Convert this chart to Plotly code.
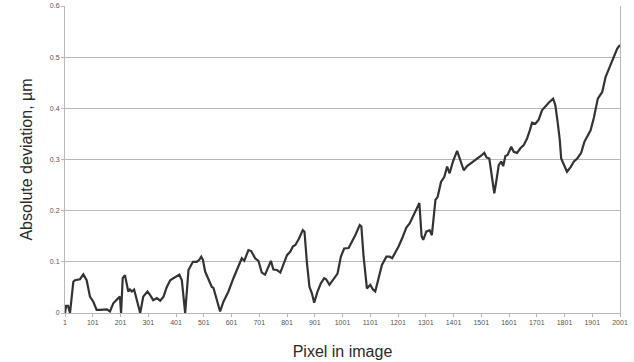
import plotly.graph_objects as go

# Pixel index along the image line
pixel = [1, 5, 12, 19, 31, 37, 55, 67, 79, 91, 103, 115, 127, 140, 152, 163, 175, 193, 199,
         203, 209, 217, 224, 229, 235, 242, 250, 260, 272, 283, 298, 308, 319, 332, 344, 356,
         368, 380, 398, 413, 422, 428, 434, 446, 462, 476, 485, 492, 498, 506, 518, 530, 536,
         548, 560, 572, 590, 608, 626, 638, 647, 662, 672, 686, 698, 710, 722, 734, 743, 752,
         765, 777, 788, 801, 813, 822, 831, 843, 858, 864, 873, 882, 891, 899, 911, 923, 935,
         942, 954, 969, 983, 995, 1007, 1023, 1035, 1047, 1063, 1069, 1077, 1089, 1101, 1111,
         1119, 1131, 1143, 1159, 1171, 1180, 1191, 1203, 1216, 1231, 1243, 1257, 1270, 1278,
         1286, 1292, 1303, 1315, 1323, 1336, 1344, 1356, 1368, 1378, 1387, 1399, 1414, 1426,
         1438, 1450, 1468, 1486, 1504, 1512, 1520, 1530, 1540, 1548, 1556, 1564, 1573, 1580,
         1588, 1596, 1609, 1618, 1630, 1642, 1654, 1666, 1676, 1684, 1696, 1708, 1720, 1732,
         1744, 1760, 1768, 1777, 1784, 1789, 1798, 1810, 1823, 1835, 1847, 1861, 1873, 1885,
         1895, 1907, 1921, 1937, 1949, 1964, 1979, 1991, 2001]

# Absolute deviation in micrometres
deviation = [0.0, 0.014, 0.014, 0.0, 0.061, 0.064, 0.066, 0.0755, 0.064, 0.032, 0.022, 0.006,
             0.006, 0.007, 0.007, 0.003, 0.019, 0.029, 0.032, 0.0, 0.068, 0.074, 0.051, 0.042,
             0.046, 0.042, 0.046, 0.025, 0.0, 0.032, 0.042, 0.035, 0.025, 0.029, 0.024, 0.032,
             0.051, 0.064, 0.07, 0.075, 0.064, 0.032, 0.0, 0.084, 0.1, 0.1, 0.104, 0.11, 0.104,
             0.081, 0.064, 0.051, 0.049, 0.025, 0.003, 0.022, 0.042, 0.068, 0.09, 0.107, 0.102,
             0.123, 0.121, 0.107, 0.102, 0.079, 0.075, 0.092, 0.102, 0.085, 0.084, 0.079, 0.094,
             0.113, 0.12, 0.13, 0.133, 0.144, 0.162, 0.159, 0.097, 0.051, 0.038, 0.02, 0.042,
             0.058, 0.068, 0.066, 0.055, 0.066, 0.077, 0.11, 0.126, 0.127, 0.139, 0.152, 0.172,
             0.169, 0.11, 0.048, 0.055, 0.046, 0.042, 0.071, 0.094, 0.11, 0.11, 0.107, 0.117,
             0.13, 0.146, 0.167, 0.175, 0.191, 0.208, 0.215, 0.15, 0.143, 0.159, 0.162, 0.152,
             0.221, 0.227, 0.256, 0.266, 0.286, 0.273, 0.296, 0.317, 0.299, 0.279, 0.287, 0.294,
             0.302, 0.309, 0.313, 0.304, 0.302, 0.266, 0.234, 0.26, 0.289, 0.296, 0.287, 0.307,
             0.309, 0.325, 0.315, 0.313, 0.322, 0.328, 0.341, 0.357, 0.372, 0.37, 0.378, 0.396,
             0.404, 0.411, 0.419, 0.406, 0.37, 0.338, 0.302, 0.292, 0.276, 0.285, 0.296, 0.302,
             0.313, 0.335, 0.346, 0.357, 0.382, 0.419, 0.432, 0.461, 0.481, 0.501, 0.517, 0.524]

x_ticks = list(range(1, 2002, 100))
x_labels = [str(v) for v in x_ticks]
y_ticks = [0, 0.1, 0.2, 0.3, 0.4, 0.5, 0.6]
y_labels = ["0", "0.1", "0.2", "0.3", "0.4", "0.5", "0.6"]

fig = go.Figure()
fig.add_trace(go.Scatter(
    x=pixel, y=deviation, mode="lines",
    line=dict(color="#333333", width=2.2),
    showlegend=False, hoverinfo="skip",
))

axis_grey = "#b8b8b8"
fig.update_layout(
    width=634, height=362,
    margin=dict(l=65, r=14, t=6, b=49),
    paper_bgcolor="white", plot_bgcolor="white",
    font=dict(family="Liberation Sans, Arial, sans-serif", color="#333333"),
    xaxis=dict(
        range=[1, 2001], tickmode="array", tickvals=x_ticks, ticktext=x_labels,
        showgrid=False, zeroline=False,
        showline=True, linecolor=axis_grey, linewidth=1, mirror=False,
        ticks="outside", ticklen=3, tickcolor=axis_grey,
        tickfont=dict(size=7, color="#555555"),
        title=dict(text="Pixel in image", font=dict(size=16, color="#2a2a2a"), standoff=20),
        automargin=False,
    ),
    yaxis=dict(
        range=[0, 0.6], tickmode="array", tickvals=y_ticks, ticktext=y_labels,
        showgrid=True, gridcolor=axis_grey, gridwidth=1, zeroline=False,
        showline=True, linecolor=axis_grey, linewidth=1, mirror=True,
        ticks="outside", ticklen=3, tickcolor=axis_grey,
        tickfont=dict(size=7, color="#555555"),
        title=dict(text="Absolute deviation, µm", font=dict(size=16, color="#2a2a2a"), standoff=13),
        automargin=False,
    ),
)

fig.write_html("out.html")
